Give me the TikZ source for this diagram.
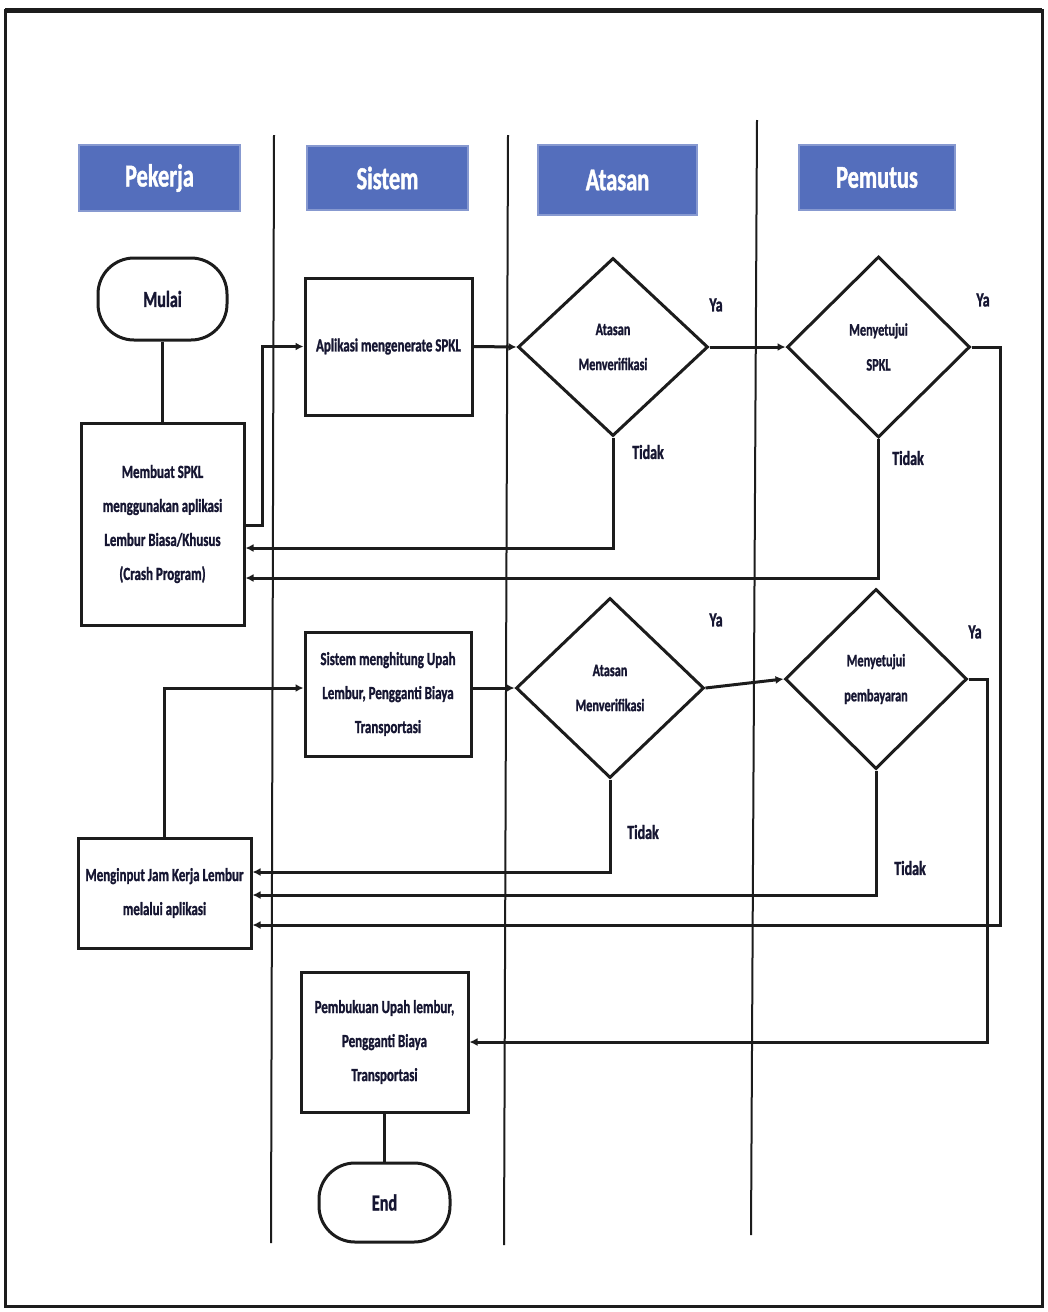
\documentclass[tikz,border=0pt]{standalone}
\usepackage{fontspec}
\setmainfont{Carlito}[FakeStretch=0.7, BoldFeatures={FakeBold=1.2}]
\usetikzlibrary{shapes.geometric,arrows.meta}
\definecolor{hdrblue}{RGB}{84,110,188}
\definecolor{ink}{RGB}{22,22,50}
\definecolor{lineclr}{RGB}{28,28,28}
\begin{document}
\begin{tikzpicture}[x=1pt,y=-1pt,
  lane/.style={line width=2pt, draw=lineclr},
  hdr/.style={fill=hdrblue, draw=hdrblue!70!white, line width=1.5pt, text=white,
    font=\bfseries\fontsize{32}{32}\selectfont, inner sep=0pt},
  procbox/.style={draw=lineclr, line width=3pt, fill=white, text=ink, align=center,
    inner sep=2pt, font=\bfseries\fontsize{18.5}{34}\selectfont},
  termbox/.style={procbox, rounded corners=36pt, font=\bfseries\fontsize{23}{23}\selectfont},
  decision/.style={diamond, draw=lineclr, line width=3pt, fill=white, text=ink, align=center,
    inner sep=0pt, font=\bfseries\fontsize{17.5}{35}\selectfont},
  flow/.style={line width=3pt, draw=lineclr, -{Latex[length=8pt,width=8pt]}},
  plain/.style={line width=3pt, draw=lineclr},
  lbl/.style={text=ink, font=\bfseries\fontsize{20}{20}\selectfont, inner sep=0pt}
]
\useasboundingbox (0,0) rectangle (1048,1312);
\fill[white] (0,0) rectangle (1048,1312);
\draw[line width=3pt, draw=lineclr] (5,10) rectangle (1042,1306);
\draw[line width=5pt, draw=lineclr] (5,10) -- (1042,10);

% lanes
\draw[lane] (274,135) -- (271,1243);
\draw[lane] (508,135) -- (504,1245);
\draw[lane] (757,120) -- (751,1235);

% headers
\node[hdr, minimum width=161pt, minimum height=66pt] (hpek) at (159.5,178) {Pekerja};
\node[hdr, minimum width=161pt, minimum height=64pt] (hsis) at (387.5,178) {Sistem};
\node[hdr, minimum width=159pt, minimum height=70pt] (hata) at (617.5,180) {Atasan};
\node[hdr, minimum width=156pt, minimum height=65pt] (hpem) at (877,177.5) {Pemutus};

% nodes
\node[termbox, minimum width=129pt, minimum height=82pt] (mulai) at (162.5,299) {Mulai};
\node[procbox, minimum width=163pt, minimum height=202pt] (membuat) at (162.5,524)
  {Membuat SPKL\\menggunakan aplikasi\\Lembur Biasa/Khusus\\(Crash Program)};
\node[procbox, minimum width=167pt, minimum height=137pt] (app) at (388.5,346.5)
  {Aplikasi mengenerate SPKL};
\node[decision, minimum width=190pt, minimum height=178pt] (d1) at (613,347)
  {Atasan\\Menverifikasi};
\node[decision, minimum width=183pt, minimum height=181pt] (d2) at (878.5,347)
  {Menyetujui\\SPKL};
\node[procbox, minimum width=166pt, minimum height=124pt] (sistem) at (388,694)
  {Sistem menghitung Upah\\Lembur, Pengganti Biaya\\Transportasi};
\node[decision, minimum width=188pt, minimum height=180pt] (d3) at (610,688)
  {Atasan\\Menverifikasi};
\node[decision, minimum width=182pt, minimum height=180pt] (d4) at (876,679)
  {Menyetujui\\pembayaran};
\node[procbox, minimum width=173pt, minimum height=110pt] (input) at (164.5,893)
  {Menginput Jam Kerja Lembur\\melalui aplikasi};
\node[procbox, minimum width=167pt, minimum height=140pt] (buku) at (384.5,1042)
  {Pembukuan Upah lembur,\\Pengganti Biaya\\Transportasi};
\node[termbox, minimum width=131pt, minimum height=79pt] (end) at (384.5,1202.5) {End};

% labels
\node[lbl] (ya1) at (716,305) {Ya};
\node[lbl] (ya2) at (983,300) {Ya};
\node[lbl] (ya3) at (716,620) {Ya};
\node[lbl] (ya4) at (975,632) {Ya};
\node[lbl] (t1) at (648,452) {Tidak};
\node[lbl] (t2) at (908,458) {Tidak};
\node[lbl] (t3) at (643,832) {Tidak};
\node[lbl] (t4) at (910,868) {Tidak};

% connectors
\draw[plain] (mulai.south) -- (membuat.north);
\draw[flow] (membuat.east |- 0,525) -- (262,525) |- (app.west);
\draw[flow] (app.east) -- (d1.west);
\draw[flow] (d1.east) -- (d2.west);
\draw[flow] (d1.south) |- (membuat.east |- 0,548);
\draw[flow] (d2.south) |- (membuat.east |- 0,578);
\draw[flow] (d2.east) -- (1000,347) |- (input.east |- 0,925);
\draw[flow] (input.north) |- (sistem.west |- d3.west);
\draw[flow] (sistem.east |- d3.west) -- (d3.west);
\draw[flow] (d3.east) -- (d4.west);
\draw[flow] (d3.south) |- (input.east |- 0,872);
\draw[flow] (d4.south) |- (input.east |- 0,895);
\draw[flow] (d4.east) -- (987,679) |- (buku.east);
\draw[plain] (buku.south) -- (end.north);
\end{tikzpicture}
\end{document}
